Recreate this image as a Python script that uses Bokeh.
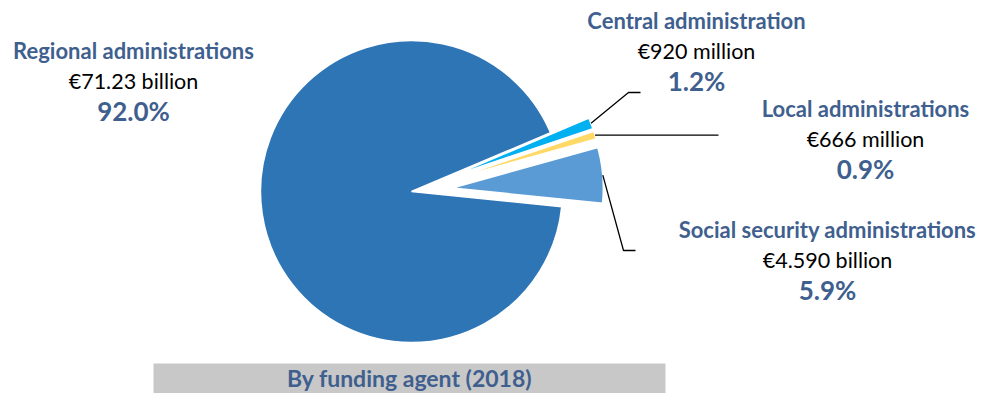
import math
from bokeh.plotting import figure
from bokeh.models import Range1d, ColumnDataSource
from bokeh.embed import file_html
from bokeh.resources import INLINE
from bokeh.core.properties import value

# ---- data ----
agents = ["Regional administrations", "Central administration",
          "Local administrations", "Social security administrations"]
amounts_bn = [71.23, 0.920, 0.666, 4.590]
amount_labels = ["€71.23 billion", "€920 million", "€666 million", "€4.590 billion"]
share_labels = ["92.0%", "1.2%", "0.9%", "5.9%"]
colors = ["#2E75B6", "#00B0F0", "#FFD966", "#5B9BD5"]
box_title = "By funding agent (2018)"

# ---- style / layout ----
W, H = 987, 393
TXT = "#3F5F8F"
FONT = "Lato"
start_deg = -5.8
explode = [0, 41, 41, 41]
R = 151
cx, cy = 411, 191                      # pie centre (screen px)
label_x = [133, 696, 865, 827]
label_mid = [50, 20, 108, 229]         # screen y of title centre
elbows = [None, [(628, 92), (640, 92)], [(718, None)], [(623, 250), (635, 250)]]


def Y(sy):
    return H - sy


p = figure(width=W, height=H, output_backend="svg", toolbar_location=None,
           x_range=Range1d(0, W), y_range=Range1d(0, H),
           min_border=0, outline_line_color=None)
p.axis.visible = False
p.grid.visible = False
p.background_fill_color = "white"
p.border_fill_color = "white"

total = sum(amounts_bn)
cum = start_deg
for i, v in enumerate(amounts_bn):
    ang = 360.0 * v / total
    hi = cum
    lo = cum - ang
    cum = lo
    mid = math.radians((lo + hi) / 2)
    ox = cx + explode[i] * math.cos(mid)
    oy = Y(cy) + explode[i] * math.sin(mid)
    src = ColumnDataSource(dict(x=[ox], y=[oy], r=[R],
                                s=[math.radians(lo)], e=[math.radians(hi)]))
    p.wedge(x="x", y="y", radius="r", start_angle="s", end_angle="e",
            source=src, fill_color=colors[i], line_color="white", line_width=1.5)
    if elbows[i] is not None:
        sx = ox + R * math.cos(mid)
        sy = oy + R * math.sin(mid)
        xs = [sx]
        ys = [sy]
        for (ex, ey) in elbows[i]:
            xs.append(ex)
            ys.append(sy if ey is None else Y(ey))
        p.line(xs, ys, line_color="black", line_width=1.3)

# labels
for i in range(len(agents)):
    m = label_mid[i]
    p.text([label_x[i]], [Y(m)], text=[agents[i]], text_align="center",
           text_baseline="middle", text_font=value(FONT), text_font_style="bold",
           text_font_size="22px", text_color=TXT)
    p.text([label_x[i]], [Y(m + 30)], text=[amount_labels[i]], text_align="center",
           text_baseline="middle", text_font=value(FONT),
           text_font_size="21.5px", text_color="black")
    p.text([label_x[i]], [Y(m + 60)], text=[share_labels[i]], text_align="center",
           text_baseline="middle", text_font=value(FONT), text_font_style="bold",
           text_font_size="26px", text_color=TXT)

# bottom box
p.quad(left=[153], right=[665], top=[Y(363)], bottom=[Y(393)],
       fill_color="#C8C8C8", line_color=None)
p.text([409], [Y(377.5)], text=[box_title], text_align="center",
       text_baseline="middle", text_font=value(FONT), text_font_style="bold",
       text_font_size="23px", text_color=TXT)

open("out.html", "w").write(file_html(p, INLINE))
